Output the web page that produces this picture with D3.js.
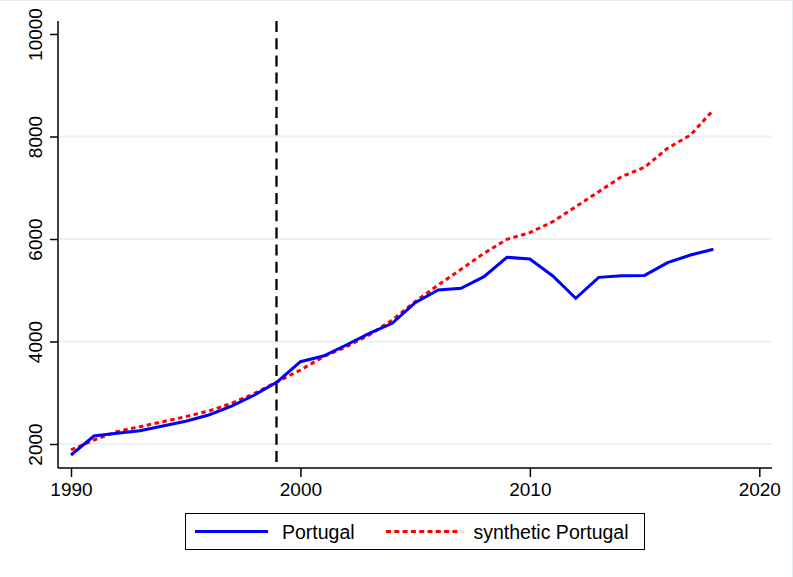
<!DOCTYPE html>
<html>
<head>
<meta charset="utf-8">
<script src="https://cdn.jsdelivr.net/npm/d3@7"></script>
<style>
  html, body { margin: 0; padding: 0; background: #fff; }
  svg { display: block; }
</style>
</head>
<body>
<script>
const width = 793;
const height = 577;

const years = d3.range(1990, 2019);
const portugal = [1785, 2156, 2208, 2260, 2351, 2443, 2566, 2741, 2956, 3216,
  3606, 3717, 3932, 4160, 4355, 4757, 5005, 5038, 5265, 5643,
  5610, 5278, 4843, 5252, 5284, 5290, 5538, 5688, 5800];
const synthetic = [1883, 2078, 2240, 2338, 2435, 2533, 2644, 2794, 2989, 3216,
  3444, 3703, 3898, 4127, 4420, 4777, 5102, 5409, 5721, 5994,
  6124, 6338, 6630, 6923, 7216, 7399, 7770, 8029, 8517];
const xTicks = [1990, 2000, 2010, 2020];
const yTicks = [2000, 4000, 6000, 8000, 10000];
const gridTicks = [2000, 4000, 6000, 8000];
const treatYear = 1999;
const seriesNames = ["Portugal", "synthetic Portugal"];

const font = "'Liberation Sans', Arial, sans-serif";

// plot frame
const plotLeft = 58, plotRight = 772, plotTop = 21, plotBottom = 468;

const x = d3.scaleLinear().domain([1990, 2020]).range([71, 759.3]);
const y = d3.scaleLinear().domain([2000, 10000]).range([444, 34]);

const svg = d3.select("body").append("svg")
  .attr("width", width)
  .attr("height", height);

// faint outer border
svg.append("line").attr("x1", 0).attr("x2", width).attr("y1", 0.5).attr("y2", 0.5)
  .attr("stroke", "#e6edf0").attr("stroke-width", 1);
svg.append("line").attr("x1", 792.5).attr("x2", 792.5).attr("y1", 0).attr("y2", height)
  .attr("stroke", "#e6edf0").attr("stroke-width", 1);

// gridlines
svg.append("g")
  .selectAll("line")
  .data(gridTicks)
  .enter()
  .append("line")
  .attr("x1", plotLeft)
  .attr("x2", plotRight)
  .attr("y1", d => y(d))
  .attr("y2", d => y(d))
  .attr("stroke", "#eaf1f3")
  .attr("stroke-width", 2);

// y axis
const yAxis = svg.append("g")
  .attr("transform", `translate(${plotLeft},0)`)
  .call(d3.axisLeft(y).tickValues(yTicks).tickSize(8).tickPadding(6).tickFormat(d3.format("d")));
yAxis.select(".domain").remove();
yAxis.append("line").attr("x1", 0).attr("x2", 0).attr("y1", plotTop).attr("y2", plotBottom)
  .attr("stroke", "#000").attr("stroke-width", 1.5);
yAxis.selectAll(".tick line").attr("stroke", "#000").attr("stroke-width", 1.5);
yAxis.selectAll(".tick text")
  .attr("font-family", font)
  .attr("font-size", 19)
  .attr("fill", "#000")
  .attr("text-anchor", "middle")
  .attr("dy", 0)
  .attr("x", 0)
  .attr("y", 0)
  .attr("transform", "translate(-16.5,0) rotate(-90)");

// x axis
const xAxis = svg.append("g")
  .attr("transform", `translate(0,${plotBottom})`)
  .call(d3.axisBottom(x).tickValues(xTicks).tickSize(9).tickPadding(6).tickFormat(d3.format("d")));
xAxis.select(".domain").remove();
xAxis.append("line").attr("x1", plotLeft).attr("x2", plotRight).attr("y1", 0).attr("y2", 0)
  .attr("stroke", "#000").attr("stroke-width", 1.5);
xAxis.selectAll(".tick line").attr("stroke", "#000").attr("stroke-width", 1.5);
xAxis.selectAll(".tick text")
  .attr("font-family", font)
  .attr("font-size", 19)
  .attr("fill", "#000");

// treatment line
svg.append("line")
  .attr("x1", x(treatYear) - 1)
  .attr("x2", x(treatYear) - 1)
  .attr("y1", plotTop)
  .attr("y2", plotBottom)
  .attr("stroke", "#000")
  .attr("stroke-width", 2.3)
  .attr("stroke-dasharray", "11,6.2");

const line = d3.line()
  .x(d => x(d[0]))
  .y(d => y(d[1]));

svg.append("path")
  .datum(years.map((yr, i) => [yr, synthetic[i]]))
  .attr("d", line)
  .attr("fill", "none")
  .attr("stroke", "#ff0000")
  .attr("stroke-width", 3)
  .attr("stroke-dasharray", "4.5,3.5");

svg.append("path")
  .datum(years.map((yr, i) => [yr, portugal[i]]))
  .attr("d", line)
  .attr("fill", "none")
  .attr("stroke", "#0000ff")
  .attr("stroke-width", 3);

// legend
const legend = svg.append("g");
legend.append("rect")
  .attr("x", 185.5).attr("y", 513.5)
  .attr("width", 459).attr("height", 36)
  .attr("fill", "#fff").attr("stroke", "#000").attr("stroke-width", 1);
legend.append("line")
  .attr("x1", 195).attr("x2", 268).attr("y1", 531.5).attr("y2", 531.5)
  .attr("stroke", "#0000ff").attr("stroke-width", 3);
legend.append("text")
  .attr("x", 282).attr("y", 538.5)
  .attr("font-family", font).attr("font-size", 19.5)
  .text(seriesNames[0]);
legend.append("line")
  .attr("x1", 386).attr("x2", 461).attr("y1", 531.5).attr("y2", 531.5)
  .attr("stroke", "#ff0000").attr("stroke-width", 3)
  .attr("stroke-dasharray", "5,3.3");
legend.append("text")
  .attr("x", 473.5).attr("y", 538.5)
  .attr("font-family", font).attr("font-size", 19.5)
  .text(seriesNames[1]);
</script>
</body>
</html>
